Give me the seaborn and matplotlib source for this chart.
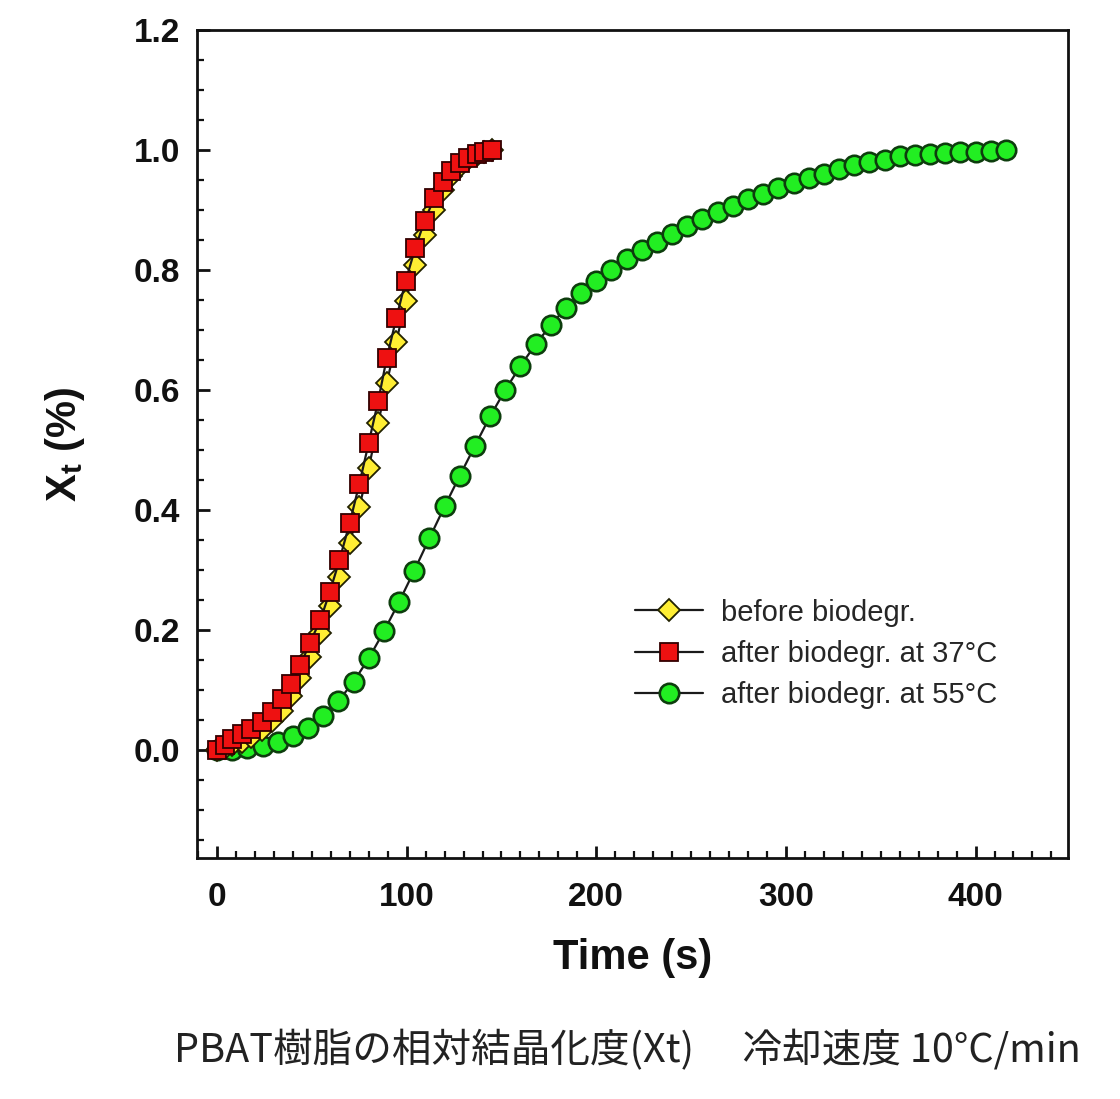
import numpy as np
import pandas as pd
import matplotlib
matplotlib.use("Agg")
import matplotlib.pyplot as plt
import seaborn as sns
from matplotlib.ticker import MultipleLocator

# values
t_red = [0, 4, 8, 13, 18, 23.5, 29, 34, 39, 44, 49, 54.5, 59.5, 64.5, 70, 75,
         80, 85, 89.5, 94.5, 99.5, 104.5, 109.5, 114.5, 119, 123.5, 128, 132.5,
         137, 141, 145]
x_red = [0.0, 0.008, 0.019, 0.027, 0.036, 0.047, 0.064, 0.086, 0.110, 0.142,
         0.179, 0.217, 0.264, 0.316, 0.379, 0.443, 0.512, 0.582, 0.653, 0.719,
         0.782, 0.836, 0.882, 0.919, 0.947, 0.964, 0.978, 0.986, 0.993, 0.997, 1.0]

t_yel = [0, 4, 8, 13, 18, 23.5, 29, 34, 39, 44, 49, 54.5, 59.5, 64.5, 70, 75,
         80, 85, 89.5, 94.5, 99.5, 104.5, 109.5, 114.5, 119, 123.5, 128, 132.5,
         137, 141, 145]
x_yel = [0.0, 0.003, 0.008, 0.014, 0.022, 0.033, 0.048, 0.066, 0.090, 0.120,
         0.155, 0.196, 0.240, 0.288, 0.345, 0.405, 0.470, 0.545, 0.612, 0.680,
         0.748, 0.808, 0.858, 0.900, 0.933, 0.957, 0.973, 0.985, 0.992, 0.997, 1.0]

t_grn = [0, 8, 16, 24, 32, 40, 48, 56, 64, 72, 80, 88, 96, 104, 112, 120, 128,
         136, 144, 152, 160, 168, 176, 184, 192, 200, 208, 216, 224, 232, 240,
         248, 256, 264, 272, 280, 288, 296, 304, 312, 320, 328, 336, 344, 352,
         360, 368, 376, 384, 392, 400, 408, 416]
x_grn = [0.0, 0.001, 0.003, 0.007, 0.014, 0.023, 0.037, 0.057, 0.082, 0.114,
         0.153, 0.198, 0.247, 0.299, 0.353, 0.406, 0.457, 0.507, 0.556, 0.600,
         0.640, 0.676, 0.708, 0.737, 0.761, 0.782, 0.800, 0.818, 0.833, 0.847,
         0.860, 0.873, 0.885, 0.896, 0.906, 0.918, 0.927, 0.936, 0.945, 0.953,
         0.959, 0.968, 0.974, 0.979, 0.983, 0.989, 0.992, 0.993, 0.995, 0.996,
         0.997, 0.998, 1.0]

labels = ["before biodegr.", "after biodegr. at 37\u00b0C", "after biodegr. at 55\u00b0C"]
caption = "PBAT樹脂の相対結晶化度(Xt)\u3000 冷却速度 10\u00b0C/min"

sns.set_style("ticks")
plt.rcParams["font.family"] = ["Liberation Sans", "DejaVu Sans"]
plt.rcParams["mathtext.fontset"] = "custom"
plt.rcParams["mathtext.rm"] = "Liberation Sans"
plt.rcParams["mathtext.bf"] = "Liberation Sans:bold"

fig = plt.figure(figsize=(11.2, 10.99), dpi=100)
ax = fig.add_axes([0.176, 0.219, 0.778, 0.754])

sns.lineplot(x=t_grn, y=x_grn, ax=ax, color="#1a1a1a", lw=1.6, marker="o",
             markersize=14, markerfacecolor="#22ee22", markeredgecolor="#0d3d0d",
             markeredgewidth=1.9, label=labels[2], zorder=2)
sns.lineplot(x=t_yel, y=x_yel, ax=ax, color="#1a1a1a", lw=1.6, marker="D",
             markersize=11.5, markerfacecolor="#ffee33", markeredgecolor="#222200",
             markeredgewidth=1.3, label=labels[0], zorder=3)
sns.lineplot(x=t_red, y=x_red, ax=ax, color="#1a1a1a", lw=1.6, marker="s",
             markersize=12.5, markerfacecolor="#ee1111", markeredgecolor="#330000",
             markeredgewidth=1.3, label=labels[1], zorder=4)

ax.set_xlim(-10.5, 449)
ax.set_ylim(-0.18, 1.2)
ax.xaxis.set_major_locator(MultipleLocator(100))
ax.xaxis.set_minor_locator(MultipleLocator(10))
ax.set_yticks([0.0, 0.2, 0.4, 0.6, 0.8, 1.0, 1.2])
ax.yaxis.set_minor_locator(MultipleLocator(0.05))
ax.set_yticklabels(["0.0", "0.2", "0.4", "0.6", "0.8", "1.0", "1.2"])

for s in ax.spines.values():
    s.set_visible(True)
    s.set_linewidth(2.0)
    s.set_color("#111111")
ax.tick_params(which="both", direction="in", top=False, right=False, color="#111111")
ax.tick_params(which="major", length=9, width=2.0, labelsize=24, labelcolor="#111111")
ax.tick_params(which="minor", length=5, width=1.6)
ax.tick_params(axis="x", which="major", pad=17)
ax.tick_params(axis="y", which="major", pad=12)
for lab in ax.get_xticklabels() + ax.get_yticklabels():
    lab.set_fontweight("bold")

ax.set_xlabel("Time (s)", fontsize=30, fontweight="bold", labelpad=18, color="#111111")
ax.set_ylabel(r"$\mathbf{X_t}$ (%)", fontsize=30, fontweight="bold", labelpad=34,
              color="#111111")

h, l = ax.get_legend_handles_labels()
order = [l.index(x) for x in labels]
ax.legend([h[i] for i in order], [l[i] for i in order], loc="upper left",
          bbox_to_anchor=(0.472, 0.345), frameon=False, fontsize=21,
          handlelength=2.35, handletextpad=0.6, labelspacing=0.45)

fig.text(0.56, 0.044, caption, ha="center", va="center", fontsize=28.5,
         family=["Noto Sans CJK JP", "DejaVu Sans"], color="#222222")

fig.savefig("out.png", dpi=100, facecolor="white")
